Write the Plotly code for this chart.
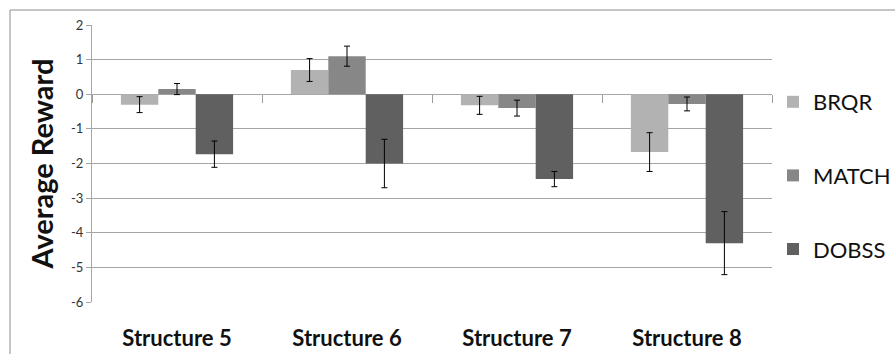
import plotly.graph_objects as go

# Average reward per structure for each algorithm, with error-bar half widths
structures = ["Structure 5", "Structure 6", "Structure 7", "Structure 8"]
brqr = [-0.30, 0.70, -0.32, -1.67]
brqr_err = [0.23, 0.33, 0.26, 0.56]
match = [0.15, 1.10, -0.40, -0.28]
match_err = [0.16, 0.29, 0.23, 0.20]
dobss = [-1.73, -2.00, -2.45, -4.30]
dobss_err = [0.38, 0.70, 0.22, 0.91]
y_ticks = [2, 1, 0, -1, -2, -3, -4, -5, -6]

W, H = 895, 354
PLOT_L, PLOT_R, PLOT_T, PLOT_B = 92, 772, 25, 302
FONT = "Lato, Carlito, Calibri, sans-serif"


def px_x(p):
    return (p - PLOT_L) / (PLOT_R - PLOT_L)


def px_y(p):
    return (PLOT_B - p) / (PLOT_B - PLOT_T)


series = [
    ("BRQR", brqr, brqr_err, "#b2b2b2"),
    ("MATCH", match, match_err, "#878787"),
    ("DOBSS", dobss, dobss_err, "#606060"),
]

fig = go.Figure()
for name, vals, errs, color in series:
    fig.add_trace(go.Bar(
        x=structures, y=vals, name=name, legendgroup=name,
        marker=dict(color=color, line=dict(width=0)),
        error_y=dict(type="data", array=errs, visible=True,
                     color="#000000", thickness=1, width=3),
    ))

# helper trace so the category tick axis at y = 0 is drawn
fig.add_trace(go.Scatter(x=structures, y=[None] * 4, xaxis="x2",
                         showlegend=False, hoverinfo="skip", mode="markers"))

fig.update_layout(
    width=W, height=H,
    margin=dict(l=PLOT_L, r=W - PLOT_R, t=PLOT_T, b=H - PLOT_B, autoexpand=False),
    paper_bgcolor="white", plot_bgcolor="white",
    barmode="group", bargap=0.34, bargroupgap=0,
    font=dict(family=FONT, color="#222222"),
    showlegend=True,
    legend=dict(
        x=px_x(773), y=px_y(81), xanchor="left", yanchor="top",
        font=dict(size=22, color="#111111"),
        tracegroupgap=42, bgcolor="rgba(0,0,0,0)",
    ),
    xaxis=dict(
        type="category", categoryarray=structures, range=[-0.5, 3.5],
        showline=False, showgrid=False, zeroline=False,
        ticks="outside", ticklen=17, tickcolor="rgba(0,0,0,0)",
        tickfont=dict(size=22, color="#111111", family=FONT, weight="bold"),
    ),
    xaxis2=dict(
        type="category", categoryarray=structures, range=[-0.5, 3.5],
        overlaying="x", anchor="free", position=0.75,
        showline=False, showgrid=False, zeroline=False,
        ticks="outside", tickson="boundaries", ticklen=8,
        tickcolor="#9a9a9a", tickwidth=1, showticklabels=False,
    ),
    yaxis=dict(
        range=[-6, 2], tickvals=y_ticks, ticktext=[str(v) for v in y_ticks],
        showgrid=True, gridcolor="#a6a6a6", gridwidth=1,
        zeroline=True, zerolinecolor="#a6a6a6", zerolinewidth=1,
        showline=True, linecolor="#a6a6a6", linewidth=1,
        ticks="outside", ticklen=5, tickcolor="#a6a6a6",
        tickfont=dict(size=13, color="#333333"),
        title=dict(text="Average Reward", standoff=8,
                   font=dict(size=29, color="#111111", family=FONT, weight="bold")),
    ),
    shapes=[dict(
        type="rect", xref="paper", yref="paper",
        x0=px_x(10), x1=px_x(W + 5), y0=px_y(H + 5), y1=px_y(10),
        line=dict(color="#8c8c8c", width=1), fillcolor="rgba(0,0,0,0)", layer="below",
    )],
)

fig.write_html("out.html")
